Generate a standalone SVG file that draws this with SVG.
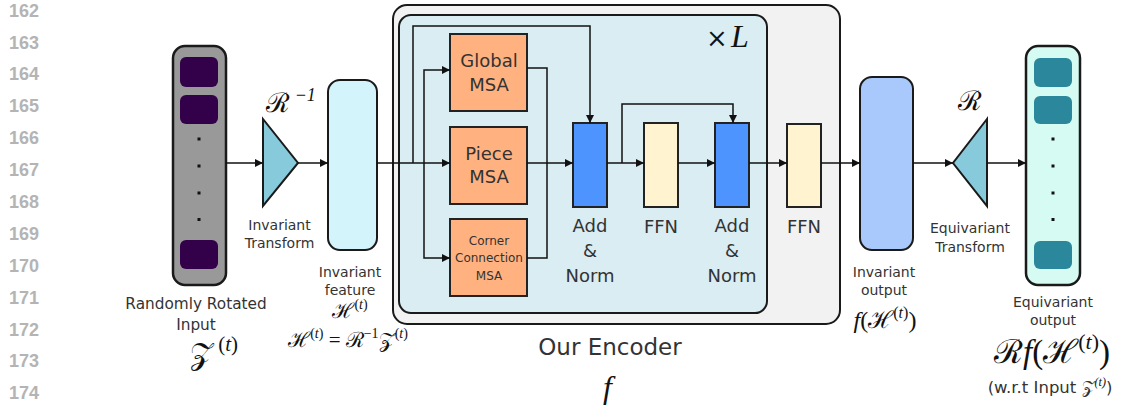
<svg xmlns="http://www.w3.org/2000/svg" width="1127" height="412" viewBox="0 0 1127 412">
  <defs>
    <marker id="arr" viewBox="0 0 10 10" refX="10" refY="5" markerWidth="8" markerHeight="8" markerUnits="userSpaceOnUse" orient="auto">
      <path d="M0,0 L10,5 L0,10 z" fill="#111"/>
    </marker>
  </defs>
  <style>
    .ln { font-family: "Liberation Sans", Arial, sans-serif; font-weight: bold; font-size: 18px; fill: #b4b4b4; text-anchor: end; }
    .lbl { font-family: "DejaVu Sans", sans-serif; fill: #333; text-anchor: middle; }
    .eq { font-family: "Liberation Serif", serif; font-style: italic; fill: #111; text-anchor: middle; }
    .sc { font-family: "DejaVu Serif", serif; font-style: normal; }
    .up { font-style: normal; }
    .it { font-family: "Liberation Serif", serif; font-style: italic; fill: #111; }
    .edge { fill: none; stroke: #111; stroke-width: 1.5; }
    .msa { fill: #ffb27f; stroke: #222; stroke-width: 2; }
    .addn { fill: #4d94ff; stroke: #222; stroke-width: 2; }
    .ffn { fill: #fff3d0; stroke: #222; stroke-width: 2; }
  </style>

  <!-- line numbers -->
  <g id="line-numbers">
    <text class="ln" x="39" y="17">162</text>
    <text class="ln" x="39" y="49">163</text>
    <text class="ln" x="39" y="80">164</text>
    <text class="ln" x="39" y="112">165</text>
    <text class="ln" x="39" y="144">166</text>
    <text class="ln" x="39" y="176">167</text>
    <text class="ln" x="39" y="208">168</text>
    <text class="ln" x="39" y="240">169</text>
    <text class="ln" x="39" y="272">170</text>
    <text class="ln" x="39" y="304">171</text>
    <text class="ln" x="39" y="336">172</text>
    <text class="ln" x="39" y="367">173</text>
    <text class="ln" x="39" y="399">174</text>
  </g>

  <!-- encoder containers -->
  <g id="encoder">
    <rect x="393" y="5" width="447" height="319" rx="14" fill="#f2f2f2" stroke="#1a1a1a" stroke-width="2"/>
    <text class="lbl" x="610" y="355" font-size="23">Our Encoder</text>
    <text class="it" x="603" y="398" font-size="32">f</text>
  </g>
  <g id="encoder-block">
    <rect x="399" y="15" width="368" height="298" rx="12" fill="#d9edf2" stroke="#1a1a1a" stroke-width="2"/>
    <text x="706" y="47" font-family="DejaVu Serif, serif" font-size="26" fill="#111">×</text>
    <text class="it" x="731" y="47" font-size="32">L</text>
  </g>

  <!-- input stack -->
  <g id="input-stack">
    <rect x="173" y="46" width="53" height="239" rx="12" fill="#999999" stroke="#1a1a1a" stroke-width="2.5"/>
    <rect x="180" y="57" width="38" height="30" rx="6" fill="#33004a"/>
    <rect x="180" y="95" width="38" height="29" rx="6" fill="#33004a"/>
    <rect x="180" y="240" width="38" height="29" rx="6" fill="#33004a"/>
    <rect x="197.5" y="137.5" width="3" height="3" fill="#111"/>
    <rect x="197.5" y="164.5" width="3" height="3" fill="#111"/>
    <rect x="197.5" y="191.5" width="3" height="3" fill="#111"/>
    <rect x="197.5" y="218" width="3" height="3" fill="#111"/>
    <text class="lbl" x="196" y="309" font-size="15.3">Randomly Rotated</text>
    <text class="lbl" x="196" y="330" font-size="15.3">Input</text>
    <text class="eq" x="214" y="364" font-size="30"><tspan class="sc">𝒵</tspan><tspan class="up" dy="-13" font-size="21"> (</tspan><tspan font-size="21">t</tspan><tspan class="up" font-size="21">)</tspan></text>
  </g>

  <!-- invariant transform -->
  <g id="inv-transform">
    <path d="M263,119 L298,163 L263,206 z" fill="#87cadb" stroke="#1a1a1a" stroke-width="2"/>
    <text class="eq" x="291" y="112" font-size="27"><tspan class="sc">ℛ</tspan><tspan dy="-11" font-size="18"> −1</tspan></text>
    <text class="lbl" x="279.5" y="230" font-size="14">Invariant</text>
    <text class="lbl" x="279.5" y="248" font-size="14">Transform</text>
  </g>

  <!-- invariant feature -->
  <g id="inv-feature">
    <rect x="328" y="80" width="49" height="170" rx="12" fill="#d4f4fc" stroke="#1a1a1a" stroke-width="2"/>
    <text class="lbl" x="350" y="277" font-size="14">Invariant</text>
    <text class="lbl" x="350" y="295" font-size="14">feature</text>
    <text class="eq" x="350" y="318" font-size="21"><tspan class="sc">ℋ</tspan><tspan class="up" dy="-9" font-size="14">(</tspan><tspan font-size="14">t</tspan><tspan class="up" font-size="14">)</tspan></text>
    <text class="eq" x="348" y="347" font-size="21"><tspan class="sc">ℋ</tspan><tspan class="up" dy="-9" font-size="14">(</tspan><tspan font-size="14">t</tspan><tspan class="up" font-size="14">)</tspan><tspan class="up" dy="9"> = </tspan><tspan class="sc">ℛ</tspan><tspan class="up" dy="-9" font-size="14">−1</tspan><tspan class="sc" dy="9">𝒵</tspan><tspan class="up" dy="-9" font-size="14">(</tspan><tspan font-size="14">t</tspan><tspan class="up" font-size="14">)</tspan></text>
  </g>

  <!-- attention branches -->
  <g id="global-msa">
    <rect class="msa" x="450" y="34" width="77" height="77"/>
    <text class="lbl" x="489" y="67" font-size="18">Global</text>
    <text class="lbl" x="489" y="91" font-size="18">MSA</text>
  </g>
  <g id="piece-msa">
    <rect class="msa" x="450" y="127" width="77" height="77"/>
    <text class="lbl" x="489" y="160" font-size="18">Piece</text>
    <text class="lbl" x="489" y="183" font-size="18">MSA</text>
  </g>
  <g id="corner-msa">
    <rect class="msa" x="450" y="219" width="77" height="77"/>
    <text class="lbl" x="489" y="245" font-size="12">Corner</text>
    <text class="lbl" x="489" y="262" font-size="12">Connection</text>
    <text class="lbl" x="489" y="280" font-size="12">MSA</text>
  </g>

  <g id="add-norm-1">
    <rect class="addn" x="573" y="123" width="34" height="84"/>
    <text class="lbl" x="590" y="232" font-size="18">Add</text>
    <text class="lbl" x="590" y="257" font-size="18">&amp;</text>
    <text class="lbl" x="590" y="282" font-size="18">Norm</text>
  </g>
  <g id="ffn-1">
    <rect class="ffn" x="644" y="123" width="34" height="84"/>
    <text class="lbl" x="661" y="233" font-size="18">FFN</text>
  </g>
  <g id="add-norm-2">
    <rect class="addn" x="715" y="123" width="34" height="84"/>
    <text class="lbl" x="732" y="232" font-size="18">Add</text>
    <text class="lbl" x="732" y="257" font-size="18">&amp;</text>
    <text class="lbl" x="732" y="282" font-size="18">Norm</text>
  </g>
  <g id="ffn-2">
    <rect class="ffn" x="787" y="124" width="34" height="83"/>
    <text class="lbl" x="804" y="233" font-size="18">FFN</text>
  </g>

  <!-- invariant output -->
  <g id="inv-output">
    <rect x="860" y="77" width="53" height="173" rx="12" fill="#a9c8fb" stroke="#1a1a1a" stroke-width="2"/>
    <text class="lbl" x="884" y="277" font-size="14">Invariant</text>
    <text class="lbl" x="884" y="295" font-size="14">output</text>
    <text class="eq" x="885" y="328" font-size="24">f<tspan class="up">(</tspan><tspan class="sc">ℋ</tspan><tspan class="up" dy="-10" font-size="16">(</tspan><tspan font-size="16">t</tspan><tspan class="up" font-size="16">)</tspan><tspan class="up" dy="10">)</tspan></text>
  </g>

  <!-- equivariant transform -->
  <g id="eq-transform">
    <path d="M987,119 L953,163 L987,206 z" fill="#87cadb" stroke="#1a1a1a" stroke-width="2"/>
    <text class="eq" x="970" y="110" font-size="27"><tspan class="sc">ℛ</tspan></text>
    <text class="lbl" x="970" y="233" font-size="14">Equivariant</text>
    <text class="lbl" x="970" y="252" font-size="14">Transform</text>
  </g>

  <!-- output stack -->
  <g id="output-stack">
    <rect x="1026" y="46" width="54" height="239" rx="12" fill="#d5fbf3" stroke="#1a1a1a" stroke-width="2.5"/>
    <rect x="1034" y="58" width="38" height="29" rx="6" fill="#2b889c"/>
    <rect x="1034" y="96" width="38" height="28" rx="6" fill="#2b889c"/>
    <rect x="1034" y="241" width="38" height="28" rx="6" fill="#2b889c"/>
    <rect x="1051.5" y="137.5" width="3" height="3" fill="#111"/>
    <rect x="1051.5" y="164.5" width="3" height="3" fill="#111"/>
    <rect x="1051.5" y="191.5" width="3" height="3" fill="#111"/>
    <rect x="1051.5" y="218" width="3" height="3" fill="#111"/>
    <text class="lbl" x="1053" y="307" font-size="14">Equivariant</text>
    <text class="lbl" x="1053" y="325" font-size="14">output</text>
    <text class="eq" x="1052" y="363" font-size="33"><tspan class="sc">ℛ</tspan>f<tspan class="up">(</tspan><tspan class="sc">ℋ</tspan><tspan class="up" dy="-14" font-size="22">(</tspan><tspan font-size="22">t</tspan><tspan class="up" font-size="22">)</tspan><tspan class="up" dy="14">)</tspan></text>
    <text class="lbl" x="1050" y="393" font-size="16.5">(w.r.t Input <tspan class="sc">𝒵</tspan><tspan class="it" dy="-7" font-size="12">(t)</tspan><tspan dy="7">)</tspan></text>
  </g>

  <!-- connectors -->
  <g id="connectors">
    <path class="edge" d="M226,163 H263" marker-end="url(#arr)"/>
    <path class="edge" d="M298,163 H328" marker-end="url(#arr)"/>
    <path class="edge" d="M377,163 H450" marker-end="url(#arr)"/>
    <path class="edge" d="M413,163 V26 H590 V123" marker-end="url(#arr)"/>
    <path class="edge" d="M424,163 V70 H450" marker-end="url(#arr)"/>
    <path class="edge" d="M424,163 V258 H450" marker-end="url(#arr)"/>
    <path class="edge" d="M527,68 H547 V258 H527"/>
    <path class="edge" d="M527,163 H573" marker-end="url(#arr)"/>
    <path class="edge" d="M607,163 H644" marker-end="url(#arr)"/>
    <path class="edge" d="M622,163 V104 H733 V123" marker-end="url(#arr)"/>
    <path class="edge" d="M678,163 H715" marker-end="url(#arr)"/>
    <path class="edge" d="M749,163 H787" marker-end="url(#arr)"/>
    <path class="edge" d="M821,163 H860" marker-end="url(#arr)"/>
    <path class="edge" d="M913,163 H953" marker-end="url(#arr)"/>
    <path class="edge" d="M987,163 H1026" marker-end="url(#arr)"/>
  </g>
</svg>
